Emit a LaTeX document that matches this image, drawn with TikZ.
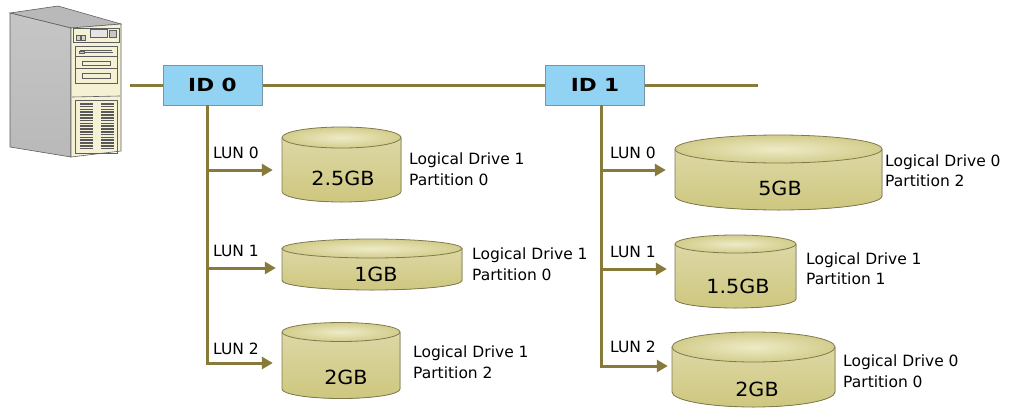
\documentclass[tikz,border=0pt]{standalone}
\usepackage{fontspec}
\setmainfont{DejaVu Sans}
\newfontfamily\idfont[FakeStretch=1.2]{DejaVu Sans Bold}
\newfontfamily\sizefont[FakeStretch=1.06]{DejaVu Sans}
\usetikzlibrary{arrows.meta}

\definecolor{bus}{HTML}{887A3A}
\definecolor{idfill}{HTML}{92D2F2}
\definecolor{idedge}{HTML}{7895A8}
\definecolor{drumfill}{HTML}{CEC77F}
\definecolor{drumlight}{HTML}{EEEBC6}
\definecolor{drumedge}{HTML}{7F7A4E}
\definecolor{caseface}{HTML}{F5F1D5}
\definecolor{caseedge}{HTML}{5E5E5E}

\tikzset{
  wire/.style={draw=bus, line width=3pt},
  lunarrow/.style={wire, -{Triangle[length=11pt,width=12pt]}},
  idbox/.style={draw=idedge, fill=idfill, line width=0.8pt, minimum width=99pt,
    minimum height=40pt, inner sep=0pt, font=\idfont\fontsize{18}{20}\selectfont},
  lunlabel/.style={anchor=west, inner sep=0pt, font=\fontsize{15.5}{19}\selectfont},
  drivelabel/.style={anchor=west, align=left, inner sep=0pt,
    font=\fontsize{15.5}{20.5}\selectfont},
  sizelabel/.style={inner sep=0pt, font=\sizefont\fontsize{19.5}{22}\selectfont},
  drumline/.style={draw=drumedge, line width=0.8pt},
  caseline/.style={draw=caseedge, line width=0.6pt},
  slot/.style={caseline, fill=caseface},
}

% \drum{name}{left}{right}{top centre y}{y radius}{bottom centre y}
\newcommand{\drum}[6]{%
  \pgfmathsetmacro\drumcx{(#2+#3)/2}%
  \pgfmathsetmacro\drumrx{(#3-#2)/2}%
  \pgfmathsetmacro\drumcy{(#4+#6)/2}%
  \pgfmathsetmacro\drumh{#6-#4+2*#5}%
  \pgfmathsetmacro\drumw{#3-#2}%
  \fill[top color=drumfill!70!white, bottom color=drumfill]
    (#2,#4) -- (#2,#6)
    arc[start angle=180, end angle=360, x radius=\drumrx pt, y radius=#5 pt]
    -- (#3,#4) -- cycle;
  \draw[drumline] (#2,#4) -- (#2,#6)
    arc[start angle=180, end angle=360, x radius=\drumrx pt, y radius=#5 pt]
    -- (#3,#4);
  \draw[drumline, inner color=drumlight, outer color=drumfill!90!white]
    (\drumcx,#4) ellipse[x radius=\drumrx pt, y radius=#5 pt];
  \node[inner sep=0pt, minimum width=\drumw pt, minimum height=\drumh pt]
    (#1) at (\drumcx,\drumcy) {};
}

\begin{document}
\begin{tikzpicture}[x=1pt, y=-1pt]
\useasboundingbox (0,0) rectangle (1011,407);

% ---------- tower server ----------
% top face
\filldraw[caseline, fill=gray!55] (10,13) -- (58,6) -- (121,24) -- (71,28) -- cycle;
% side face
\shade[shading angle=40, top color=gray!45, middle color=white, bottom color=gray!55]
  (10,13) -- (71,28) -- (71,157) -- (10,147) -- cycle;
\draw[caseline] (10,13) -- (71,28) -- (71,157) -- (10,147) -- cycle;
% front face
\filldraw[caseline, fill=caseface] (71,28) -- (121,24) -- (121,151) -- (71,157) -- cycle;
% control panel
\draw[caseline] (73,28) rectangle (119,42);
\filldraw[caseline, fill=gray!20] (90,29) rectangle (107,37);
\filldraw[caseline, fill=gray!35] (76,35.5) rectangle (80.5,40);
\filldraw[caseline, fill=gray!35] (81,35.5) rectangle (85.5,40);
\filldraw[caseline, fill=gray!45] (109,30.5) rectangle (116,37);
% drive bays
\draw[caseline] (75,46) rectangle (117,83);
\draw[caseline] (75,56) -- (117,56);
\draw[caseline] (75,68) -- (117,68);
\draw[caseline] (80,50) -- (112,50);
\filldraw[caseline, fill=gray!40] (79,51) rectangle (84,53);
\draw[caseline] (84,52) -- (113,52);
\draw[slot] (82,61) rectangle (110,65);
\draw[slot] (82,73) rectangle (110,78);
% lower vent
\draw[caseline] (72,97) -- (120,96);
\draw[caseline] (75,100) rectangle (117,153);
\foreach \vy in {103,105.8,...,148} {
  \fill[gray!70!black] (80,\vy) rectangle (93,\vy+1.5);
  \fill[gray!70!black] (101,\vy) rectangle (114,\vy+1.5);
}

% ---------- bus ----------
\coordinate (busL) at (130,85);
\coordinate (busR) at (758,85);
\draw[wire] (busL) -- (busR);

\node[idbox] (id0) at (212.5,85) {ID 0};
\node[idbox] (id1) at (595,85) {ID 1};

% ---------- drums ----------
\drum{c00}{282}{401}{137.5}{10.5}{191.5}
\drum{c01}{282}{462}{248.5}{9.5}{280.5}
\drum{c02}{282}{400}{332}{9.5}{389}
\drum{c10}{675}{882}{149}{14}{196}
\drum{c11}{675}{796}{244}{9}{299}
\drum{c12}{672}{835}{347}{15}{392}

\node[sizelabel] (s00) at (343,178) {2.5GB};
\node[sizelabel] (s01) at (376,274) {1GB};
\node[sizelabel] (s02) at (346,377) {2GB};
\node[sizelabel] (s10) at (780,188) {5GB};
\node[sizelabel] (s11) at (738,286.5) {1.5GB};
\node[sizelabel] (s12) at (757,389) {2GB};

% ---------- branches of ID 0 ----------
\coordinate (j00) at (207,170);
\coordinate (j01) at (207,268);
\coordinate (j02) at (207,363);
\draw[lunarrow, shorten >=9pt] (id0.south -| j00) |- (c02.west |- j02);
\draw[lunarrow, shorten >=9pt] (j00) -- (c00.west |- j00);
\draw[lunarrow, shorten >=6pt] (j01) -- (c01.west |- j01);

% ---------- branches of ID 1 ----------
\coordinate (j10) at (601,170);
\coordinate (j11) at (601,269);
\coordinate (j12) at (601,366);
\draw[lunarrow, shorten >=4pt] (id1.south -| j10) |- (c12.west |- j12);
\draw[lunarrow, shorten >=9pt] (j10) -- (c10.west |- j10);
\draw[lunarrow, shorten >=8pt] (j11) -- (c11.west |- j11);

% ---------- labels ----------
\node[lunlabel] (l00) at (213,153) {LUN 0};
\node[lunlabel] (l01) at (213,251) {LUN 1};
\node[lunlabel] (l02) at (213,349) {LUN 2};
\node[lunlabel] (l10) at (610,153) {LUN 0};
\node[lunlabel] (l11) at (610,252) {LUN 1};
\node[lunlabel] (l12) at (610,347) {LUN 2};

\node[drivelabel] (d00) at (409,169) {Logical Drive 1\\Partition 0};
\node[drivelabel] (d01) at (472,264) {Logical Drive 1\\Partition 0};
\node[drivelabel] (d02) at (413,362) {Logical Drive 1\\Partition 2};
\node[drivelabel] (d10) at (885,170.5) {Logical Drive 0\\Partition 2};
\node[drivelabel] (d11) at (806,268.5) {Logical Drive 1\\Partition 1};
\node[drivelabel] (d12) at (843,371) {Logical Drive 0\\Partition 0};
\end{tikzpicture}
\end{document}
